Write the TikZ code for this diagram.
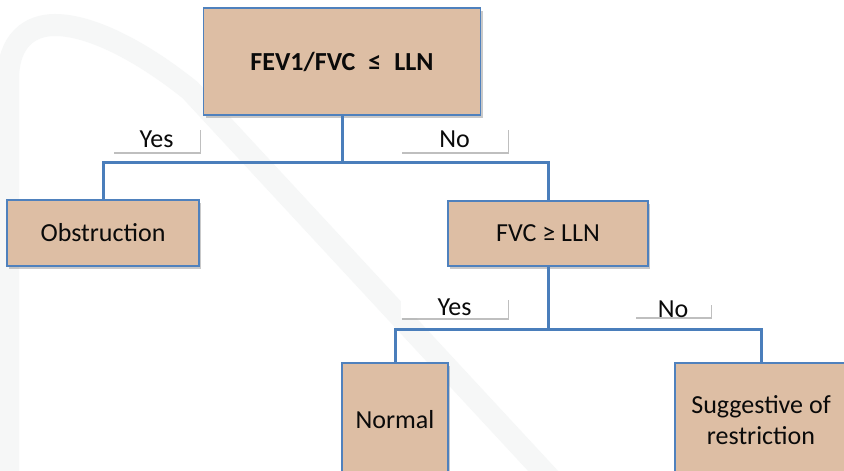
\documentclass[tikz,border=0pt]{standalone}
\usepackage{fontspec}
\setmainfont{Carlito}
\usetikzlibrary{shadows}
\definecolor{boxfill}{HTML}{DDBEA4}
\definecolor{boxline}{HTML}{4F81BD}
\definecolor{conn}{HTML}{4A7EBB}
\definecolor{swoosh}{HTML}{F6F7F7}
\definecolor{txt}{HTML}{0A0A0A}
\begin{document}
\begin{tikzpicture}[x=1pt,y=-1pt,
  stepbox/.style={draw=boxline, line width=1.3pt, fill=boxfill, text=txt, inner sep=0pt,
    font=\fontsize{26}{31.5}\selectfont, align=center,
    drop shadow={shadow xshift=2pt, shadow yshift=-2.5pt, opacity=0.35, fill=black!60}},
  answer/.style={fill=white, inner sep=0pt, text=txt, font=\fontsize{26}{28}\selectfont,
    text height=16pt, text depth=0pt,
    drop shadow={shadow xshift=1pt, shadow yshift=-2pt, opacity=0.5, fill=black!50}},
  link/.style={draw=conn, line width=3pt}]
\useasboundingbox (0,0) rectangle (844,471);
\fill[white] (0,0) rectangle (844,471);
% faint background swoosh
\draw[swoosh, line width=22pt] (8,500) -- (8,80) .. controls (8,40) and (30,25) .. (55,25)
  .. controls (90,25) and (140,50) .. (190,90) -- (570,500);

% boxes
\node[stepbox, minimum width=277pt, minimum height=107pt, font=\bfseries\fontsize{26}{30}\selectfont]
  (top) at (342,61.5) {FEV1/FVC\enspace≤\enspace LLN};
\node[stepbox, minimum width=192pt, minimum height=66pt] (obs) at (103,233) {Obstruction};
\node[stepbox, minimum width=200pt, minimum height=65pt] (fvc) at (548,233.5) {FVC ≥ LLN};
\node[stepbox, minimum width=106pt, minimum height=114pt] (nrm) at (395,420) {Normal};
\node[stepbox, minimum width=172pt, minimum height=114pt] (sug) at (761,420) {Suggestive of\\restriction};

% connectors
\coordinate (j1) at (342,162);
\coordinate (j2) at (548,329);
\draw[link] (top.south) -- (j1);
\draw[link] (obs.north) |- (j1) -| (fvc.north);
\draw[link] (fvc.south) -- (j2);
\draw[link] (nrm.north) |- (j2) -| (sug.north);

% answer labels
\node[answer, minimum width=87pt, minimum height=24pt] (yes1) at (156.5,139.5) {Yes};
\node[answer, minimum width=107pt, minimum height=24pt] (no1) at (454.5,139.5) {No};
\node[answer, minimum width=107pt, minimum height=20pt] (yes2) at (454.5,307.5) {Yes};
\node[answer, minimum width=76pt, minimum height=14pt, text height=14pt] (no2) at (673,310) {No};
\end{tikzpicture}
\end{document}
